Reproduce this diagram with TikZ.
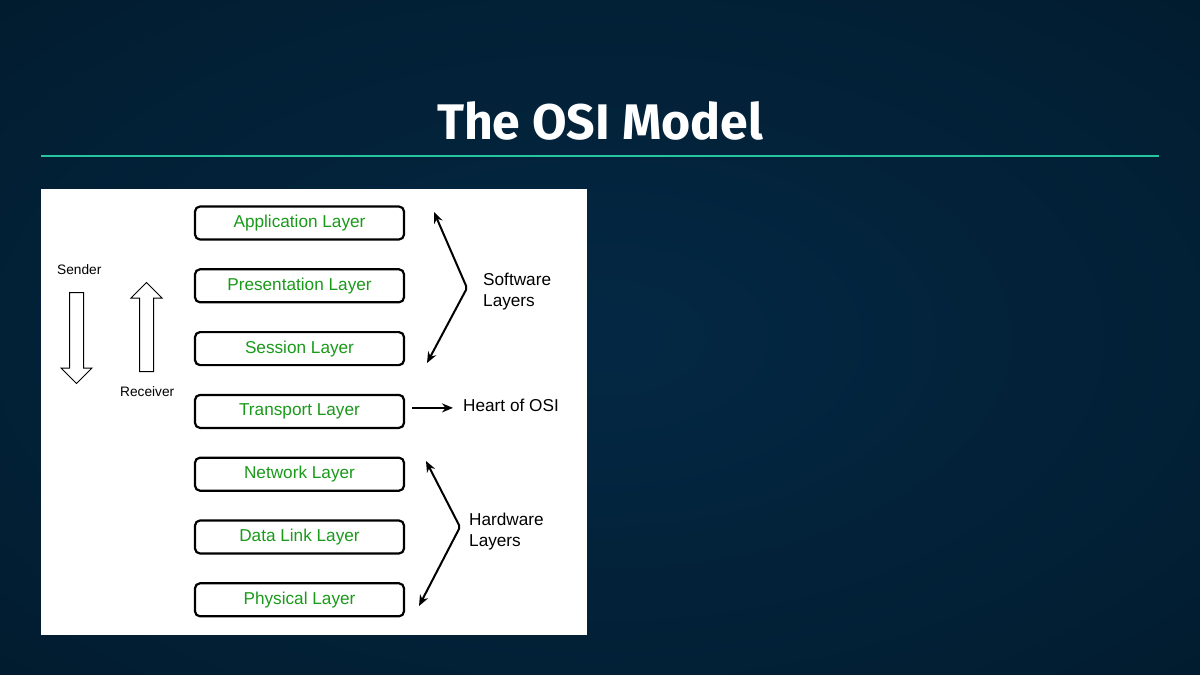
\documentclass[tikz,border=0pt]{standalone}
\usepackage{fontspec}
\setmainfont{Liberation Sans}
\newfontfamily\titlefont{Fira Sans}
\usetikzlibrary{shapes.arrows, arrows.meta, positioning}
\definecolor{bgIn}{RGB}{4,40,68}
\definecolor{bgMid}{RGB}{2,31,52}
\definecolor{bgOut}{RGB}{1,21,36}
\definecolor{ruleTeal}{RGB}{40,196,160}
\definecolor{layerGreen}{RGB}{26,154,26}
\pgfdeclareradialshading{bgGlow}{\pgfpoint{0bp}{0bp}}{color(0bp)=(bgIn); color(28bp)=(bgMid); color(50bp)=(bgOut)}
\tikzstyle{layerNode} = [rectangle, minimum width=209pt, minimum height=33pt, text centered, rounded corners=5pt, draw=black, line width=2.2pt, fill=white, text=layerGreen, font=\fontsize{17.2}{20}\selectfont]
\tikzstyle{eNode} = [inner sep=0pt, text=black, align=left, font=\fontsize{17.2}{21}\selectfont]
\tikzstyle{sNode} = [eNode, font=\fontsize{13.7}{16}\selectfont]
\tikzstyle{hollowArrow} = [single arrow, draw=black, line width=1pt, fill=white, minimum height=91pt, minimum width=31pt, single arrow head extend=8.5pt, inner sep=6.5pt]
\tikzstyle{arrowK} = [line width=2pt,->,>={Stealth[length=11pt,width=9pt]},draw=black]
\tikzstyle{arrowKK} = [arrowK, <->, rounded corners=2pt]

\begin{document}
\begin{tikzpicture}[x=1pt, y=1pt]
    \useasboundingbox (0,0) rectangle (1200,-675);
    \shade[shading=bgGlow] (0,0) rectangle (1200,-675);

    \node (title) at (600,-121) {\titlefont\bfseries\fontsize{50}{60}\selectfont\color{white}The OSI Model};
    \draw [ruleTeal, line width=1.5pt] (41,-156) -- (1159,-156);
    \fill [white] (41,-189) rectangle (587,-635);

    % the seven layers
    \node (app) [layerNode] at (299.5,-223) {Application Layer};
    \node (pres) [layerNode, below=27.6pt of app] {Presentation Layer};
    \node (sess) [layerNode, below=27.6pt of pres] {Session Layer};
    \node (transport) [layerNode, below=27.6pt of sess] {Transport Layer};
    \node (net) [layerNode, below=27.6pt of transport] {Network Layer};
    \node (link) [layerNode, below=27.6pt of net] {Data Link Layer};
    \node (phys) [layerNode, below=27.6pt of link] {Physical Layer};

    % sender / receiver
    \node (send) [hollowArrow, rotate=-90] at (76.5,-334.5) {};
    \node (recv) [hollowArrow, rotate=90, minimum height=89pt] at (146.5,-330.5) {};
    \node (sender) [sNode, anchor=west] at (57,-269.5) {Sender};
    \node (receiver) [sNode, anchor=west] at (120,-392) {Receiver};

    % labels on the right
    \node (sw) [eNode, anchor=west] at (483,-292) {Software\\Layers};
    \node (heart) [eNode, anchor=west] at (463,-405.5) {Heart of OSI};
    \node (hw) [eNode, anchor=west] at (469,-532) {Hardware\\Layers};

    \coordinate (swTop) at (434,-212);
    \coordinate (swMid) at (467,-288);
    \coordinate (swBot) at (427,-363);
    \coordinate (hwTop) at (426,-461);
    \coordinate (hwMid) at (460,-527);
    \coordinate (hwBot) at (419,-606);
    \coordinate (hs) at ([xshift=7pt,yshift=3.5pt]transport.east);
    \coordinate (heartIn) at ([xshift=-10pt]heart.west);

    \draw [arrowKK] (swTop) -- (swMid) -- (swBot);
    \draw [arrowKK] (hwTop) -- (hwMid) -- (hwBot);
    \draw [arrowK] (hs) -- (hs -| heartIn);

\end{tikzpicture}
\end{document}
